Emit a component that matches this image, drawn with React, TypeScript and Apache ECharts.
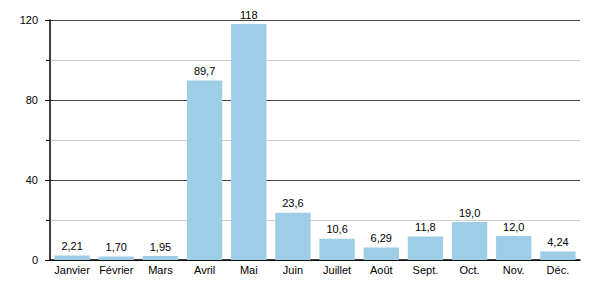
import React, { useEffect, useRef } from "react";
import * as echarts from "echarts";

const categories = ["Janvier", "Février", "Mars", "Avril", "Mai", "Juin", "Juillet", "Août", "Sept.", "Oct.", "Nov.", "Déc."];
const values = [2.21, 1.7, 1.95, 89.7, 118, 23.6, 10.6, 6.29, 11.8, 19.0, 12.0, 4.24];
const valueLabels = ["2,21", "1,70", "1,95", "89,7", "118", "23,6", "10,6", "6,29", "11,8", "19,0", "12,0", "4,24"];

export default function App() {
  const ref = useRef<HTMLDivElement>(null);
  useEffect(() => {
    if (!ref.current) return;
    const chart = echarts.init(ref.current, null, { renderer: "svg" });
    const font = "'Liberation Sans', Arial, sans-serif";
    chart.setOption({
      animation: false,
      grid: { left: 42, right: 12, top: 12, bottom: 32, containLabel: false },
      xAxis: {
        type: "category",
        data: categories,
        axisLine: { lineStyle: { color: "#000", width: 1.5 } },
        axisTick: { show: false },
        axisLabel: { color: "#000", fontSize: 11, fontFamily: font, margin: 4, interval: 0 },
      },
      yAxis: {
        type: "value",
        min: 0,
        max: 120,
        interval: 40,
        axisLine: { show: true, lineStyle: { color: "#000", width: 1.5 } },
        axisTick: { show: true, length: 5, lineStyle: { color: "#000" } },
        minorTick: { show: true, splitNumber: 2, length: 4, lineStyle: { color: "#000" } },
        splitLine: { show: true, lineStyle: { color: "#444", width: 1 } },
        minorSplitLine: { show: true, lineStyle: { color: "#ccc", width: 1 } },
        axisLabel: { color: "#000", fontSize: 11, fontFamily: font, margin: 12 },
      },
      series: [
        {
          type: "bar",
          data: values,
          barCategoryGap: "20%",
          itemStyle: { color: "#9ecde6" },
          label: {
            show: true,
            position: "top",
            distance: 4,
            color: "#000",
            fontSize: 11,
            fontFamily: font,
            formatter: (p: any) => valueLabels[p.dataIndex],
          },
        },
      ],
    });
    return () => chart.dispose();
  }, []);
  return <div ref={ref} style={{ width: 584, height: 284 }} />;
}
